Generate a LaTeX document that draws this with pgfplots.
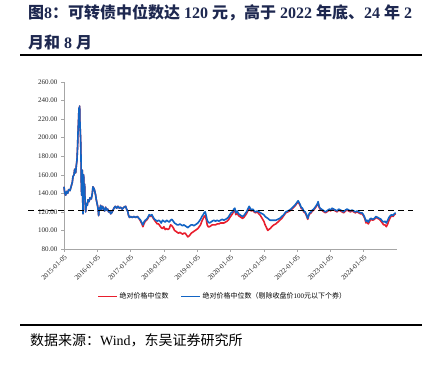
\documentclass[border=0pt]{standalone}
\usepackage{fontspec}
\setmainfont{Liberation Serif}
\newfontfamily\cjk{Noto Sans CJK SC}
\usepackage{pgfplots}
\usepackage{pgfplotstable}
\pgfplotsset{compat=1.18}
\definecolor{cbred}{RGB}{232,30,45}
\definecolor{cbblue}{RGB}{18,100,196}
\definecolor{titlecol}{RGB}{30,40,80}
\newcommand\C[1]{{\cjk #1}}
\pgfplotstableread{
x blue red
2015.00 147 147
2015.02 141 141
2015.05 138 138
2015.08 142 142
2015.11 140 140
2015.14 144 144
2015.18 143 143
2015.22 148 148
2015.25 152 152
2015.27 158 158
2015.30 160 160
2015.32 166 166
2015.35 162 162
2015.37 170 170
2015.39 176 176
2015.41 192 192
2015.42 205 205
2015.44 222 222
2015.45 232 232
2015.46 226 226
2015.47 234 234
2015.48 215 215
2015.50 198 198
2015.51 180 180
2015.52 150 150
2015.53 138 138
2015.54 160 160
2015.55 165 165
2015.56 140 140
2015.57 118 118
2015.58 145 145
2015.59 160 160
2015.60 148 148
2015.62 150 150
2015.63 135 135
2015.65 120 120
2015.67 129 129
2015.70 127 127
2015.72 133 133
2015.75 131 131
2015.78 135 135
2015.82 134 134
2015.85 140 140
2015.87 147 147
2015.90 145 145
2015.92 143 143
2015.95 138 138
2015.97 133 133
2016.00 128 128
2016.02 124 124
2016.04 116 116
2016.06 124 124
2016.08 122 122
2016.10 127 127
2016.13 123 123
2016.16 126 126
2016.19 123 123
2016.22 121 121
2016.25 125 125
2016.28 122 122
2016.31 123 123
2016.34 120 120
2016.37 121 121
2016.40 118 118
2016.43 119 119
2016.46 121 121
2016.50 124 124
2016.54 126 126
2016.58 124 124
2016.62 126 126
2016.66 124 124
2016.70 125 125
2016.75 123 123
2016.80 125 125
2016.85 126 126
2016.88 123 123
2016.91 121 121
2016.94 116 116
2016.97 114 114
2017.00 115 115
2017.05 114 114
2017.10 115 115
2017.15 114 114
2017.20 115 115
2017.25 113 113
2017.30 111 110
2017.34 108 107
2017.37 106 104
2017.40 109 107
2017.44 111 110
2017.48 112 111
2017.52 114 113
2017.56 117 116
2017.60 116 115
2017.64 117 116
2017.68 114 113
2017.72 112 111
2017.76 111 109
2017.80 110 107
2017.84 111 107
2017.88 110 105
2017.92 108 103
2017.96 111 102
2018.00 110 104
2018.04 109 101
2018.08 111 102
2018.12 110 101
2018.16 109 102
2018.20 111 106
2018.24 112 105
2018.28 110 103
2018.32 108 100
2018.36 107 99
2018.40 106 98
2018.44 106 97
2018.48 107 98
2018.52 106 97
2018.56 105 96
2018.60 106 97
2018.64 105 97
2018.68 104 95
2018.72 103 93
2018.75 104 94
2018.78 105 95
2018.82 106 97
2018.86 106 98
2018.90 105 99
2018.94 106 100
2018.98 107 101
2019.02 108 102
2019.06 110 104
2019.10 112 106
2019.14 115 110
2019.18 117 113
2019.21 119 115
2019.24 120 116
2019.27 116 112
2019.30 111 106
2019.33 109 104
2019.37 108 104
2019.41 109 105
2019.45 110 106
2019.50 111 106
2019.55 110 106
2019.60 111 107
2019.65 110 107
2019.70 111 108
2019.75 112 108
2019.80 111 108
2019.85 112 109
2019.90 113 110
2019.95 115 112
2019.98 117 114
2020.02 119 116
2020.06 120 118
2020.10 123 121
2020.13 124 122
2020.16 119 117
2020.20 121 119
2020.24 118 116
2020.28 117 115
2020.32 116 114
2020.36 115 113
2020.40 116 114
2020.44 118 116
2020.48 120 118
2020.52 123 121
2020.56 126 124
2020.59 124 122
2020.63 122 121
2020.67 123 122
2020.71 121 120
2020.75 120 119
2020.80 121 120
2020.85 120 118
2020.90 119 116
2020.95 118 113
2021.00 117 110
2021.04 115 106
2021.08 114 103
2021.12 113 100
2021.15 112 101
2021.19 111 102
2021.24 111 104
2021.30 111 106
2021.36 111 107
2021.42 112 109
2021.48 113 111
2021.54 115 113
2021.60 117 116
2021.66 120 119
2021.72 121 120
2021.78 122 121
2021.84 124 123
2021.90 126 125
2021.95 128 127
2021.99 130 129
2022.03 132 131
2022.06 130 129
2022.09 128 127
2022.12 125 124
2022.16 124 123
2022.20 121 120
2022.24 120 119
2022.28 117 116
2022.32 113 112
2022.35 117 116
2022.38 119 118
2022.42 120 119
2022.46 122 121
2022.50 123 122
2022.54 125 124
2022.58 127 126
2022.61 129 128
2022.63 131 130
2022.66 126 125
2022.69 124 123
2022.73 123 122
2022.77 122 121
2022.81 121 120
2022.85 120 119
2022.89 121 120
2022.93 122 121
2022.97 123 122
2023.01 122 121
2023.05 124 123
2023.10 123 122
2023.15 122 121
2023.20 121 120
2023.25 123 122
2023.30 122 121
2023.35 121 120
2023.40 120 119
2023.45 122 121
2023.50 123 122
2023.55 122 121
2023.60 121 120
2023.65 122 121
2023.70 121 120
2023.75 120 119
2023.80 121 120
2023.85 120 119
2023.90 119 118
2023.95 119 118
2023.99 117 116
2024.03 114 113
2024.07 110 108
2024.10 111 109
2024.14 109 107
2024.18 112 110
2024.22 113 112
2024.27 112 111
2024.32 113 112
2024.37 115 114
2024.42 114 113
2024.47 113 112
2024.52 112 110
2024.56 110 108
2024.60 109 106
2024.64 110 106
2024.68 108 104
2024.72 111 107
2024.76 114 111
2024.80 116 114
2024.84 117 116
2024.88 116 115
2024.92 118 117
2024.96 119 118
}\cbdata
\begin{document}
\begin{tikzpicture}
\path[use as bounding box] (0,0) rectangle (434bp,368bp);
\node[anchor=west,inner sep=0pt,text=titlecol,font=\fontsize{16bp}{18bp}\selectfont\bfseries] at (28bp,355bp)
  {\C{\bfseries 图}8\C{\bfseries ：可转债中位数达} 120 \C{\bfseries 元，高于} 2022 \C{\bfseries 年底、}24 \C{\bfseries 年} 2};
\node[anchor=west,inner sep=0pt,text=titlecol,font=\fontsize{16bp}{18bp}\selectfont\bfseries] at (28bp,326bp)
  {\C{\bfseries 月和} 8 \C{\bfseries 月}};
\draw[line width=1.3bp] (20bp,313bp) -- (422bp,313bp);
\draw[line width=1.3bp] (20bp,43bp) -- (422bp,43bp);
\node[anchor=west,inner sep=0pt,font=\fontsize{14bp}{16bp}\selectfont] at (30bp,28bp)
  {\C{数据来源：}Wind\C{，东吴证券研究所}};
\begin{axis}[
  at={(64bp,119bp)}, anchor=south west,
  scale only axis, width=333bp, height=167bp,
  xmin=2015, xmax=2025, ymin=80, ymax=260,
  clip=false,
  axis x line*=bottom, axis y line*=left,
  axis line style={draw=gray!70, line width=0.6bp, -},
  tick style={draw=gray!70, line width=0.5bp},
  tick align=outside, major tick length=3bp,
  xtick={2015,2016,...,2024},
  xticklabels={2015-01-05,2016-01-05,2017-01-05,2018-01-05,2019-01-05,2020-01-05,2021-01-05,2022-01-05,2023-01-05,2024-01-05},
  xticklabel style={rotate=45, anchor=north east, font=\fontsize{7bp}{8bp}\selectfont, text=gray!30!black, inner sep=1.5bp},
  ytick={80,100,...,260},
  yticklabel={\pgfmathprintnumber[fixed,fixed zerofill,precision=2]{\tick}},
  yticklabel style={font=\fontsize{7bp}{8bp}\selectfont, text=gray!30!black},
  /pgf/number format/assume math mode=true,
  legend columns=2,
  legend style={at={(0.477,-0.285)}, anchor=center, draw=none, fill=none,
    font=\fontsize{7bp}{8bp}\selectfont, /tikz/every even column/.append style={column sep=10bp}},
  legend image code/.code={\draw[#1, line width=1bp] (0bp,0bp) -- (19bp,0bp);},
]
\addplot[cbred, line width=1.6bp, line join=round] table[x=x,y=red] {\cbdata};
\addlegendentry{\C{绝对价格中位数}}
\addplot[cbblue, line width=1.6bp, line join=round] table[x=x,y=blue] {\cbdata};
\addlegendentry{\C{绝对价格中位数（剔除收盘价}100\C{元以下个券）}}
\addplot[black, line width=1.4bp, dash pattern=on 6bp off 4bp, forget plot] coordinates {(2013.92,121.2) (2025.48,121.2)};
\end{axis}
\end{tikzpicture}
\end{document}
